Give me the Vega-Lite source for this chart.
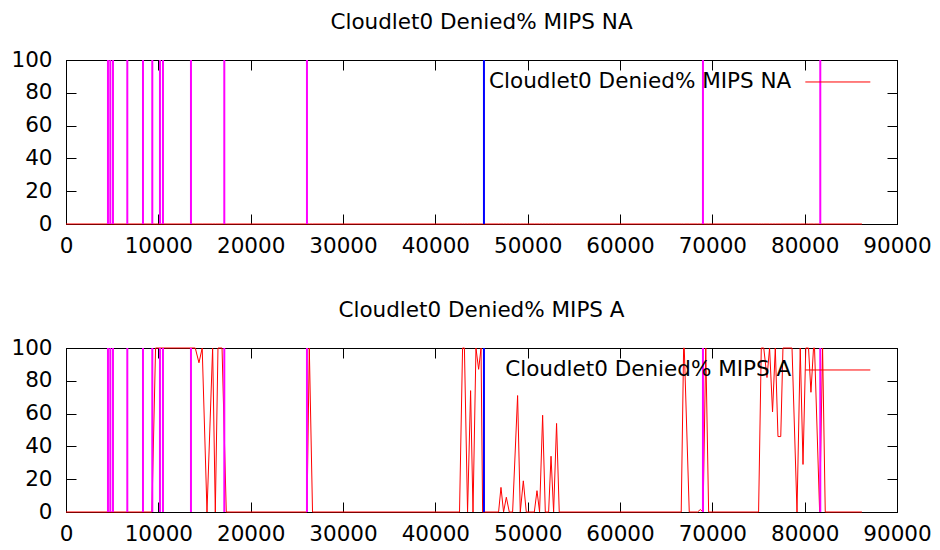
{
  "$schema": "https://vega.github.io/schema/vega-lite/v6.json",
  "padding": {"left": 10, "top": 11, "right": 5, "bottom": 0},
  "datasets": {
    "denied": [
      {"t": 0, "na": 0, "a": 0},
      {"t": 9300, "na": 0, "a": 0},
      {"t": 9700, "na": 0, "a": 100},
      {"t": 14000, "na": 0, "a": 100},
      {"t": 14400, "na": 0, "a": 91},
      {"t": 14750, "na": 0, "a": 100},
      {"t": 15270, "na": 0, "a": 0},
      {"t": 15880, "na": 0, "a": 100},
      {"t": 16170, "na": 0, "a": 0},
      {"t": 16460, "na": 0, "a": 100},
      {"t": 16900, "na": 0, "a": 100},
      {"t": 17360, "na": 0, "a": 0},
      {"t": 26100, "na": 0, "a": 0},
      {"t": 26350, "na": 0, "a": 100},
      {"t": 26700, "na": 0, "a": 0},
      {"t": 42620, "na": 0, "a": 0},
      {"t": 42950, "na": 0, "a": 100},
      {"t": 43150, "na": 0, "a": 100},
      {"t": 43490, "na": 0, "a": 0},
      {"t": 43820, "na": 0, "a": 74},
      {"t": 44080, "na": 0, "a": 0},
      {"t": 44400, "na": 0, "a": 100},
      {"t": 44690, "na": 0, "a": 87},
      {"t": 44950, "na": 0, "a": 100},
      {"t": 45120, "na": 0, "a": 0},
      {"t": 46850, "na": 0, "a": 0},
      {"t": 47110, "na": 0, "a": 15},
      {"t": 47390, "na": 0, "a": 0},
      {"t": 47690, "na": 0, "a": 9},
      {"t": 48010, "na": 0, "a": 0},
      {"t": 48370, "na": 0, "a": 0},
      {"t": 48910, "na": 0, "a": 71},
      {"t": 49200, "na": 0, "a": 0},
      {"t": 49530, "na": 0, "a": 19},
      {"t": 49850, "na": 0, "a": 0},
      {"t": 50720, "na": 0, "a": 0},
      {"t": 51010, "na": 0, "a": 13},
      {"t": 51290, "na": 0, "a": 0},
      {"t": 51620, "na": 0, "a": 59},
      {"t": 51910, "na": 0, "a": 0},
      {"t": 52270, "na": 0, "a": 0},
      {"t": 52530, "na": 0, "a": 34},
      {"t": 52810, "na": 0, "a": 0},
      {"t": 53130, "na": 0, "a": 54},
      {"t": 53420, "na": 0, "a": 0},
      {"t": 66630, "na": 0, "a": 0},
      {"t": 66890, "na": 0, "a": 100},
      {"t": 66960, "na": 0, "a": 100},
      {"t": 67500, "na": 0, "a": 0},
      {"t": 68400, "na": 0, "a": 0},
      {"t": 68700, "na": 0, "a": 1.5},
      {"t": 69000, "na": 0, "a": 0},
      {"t": 69290, "na": 0, "a": 100},
      {"t": 69600, "na": 0, "a": 0},
      {"t": 75010, "na": 0, "a": 0},
      {"t": 75300, "na": 0, "a": 100},
      {"t": 75570, "na": 0, "a": 100},
      {"t": 75920, "na": 0, "a": 82},
      {"t": 76200, "na": 0, "a": 100},
      {"t": 76520, "na": 0, "a": 61},
      {"t": 76820, "na": 0, "a": 100},
      {"t": 77110, "na": 0, "a": 46},
      {"t": 77410, "na": 0, "a": 46},
      {"t": 77650, "na": 0, "a": 100},
      {"t": 78630, "na": 0, "a": 100},
      {"t": 79170, "na": 0, "a": 0},
      {"t": 79520, "na": 0, "a": 100},
      {"t": 79820, "na": 0, "a": 29},
      {"t": 80120, "na": 0, "a": 100},
      {"t": 80420, "na": 0, "a": 100},
      {"t": 80680, "na": 0, "a": 73},
      {"t": 80960, "na": 0, "a": 100},
      {"t": 81070, "na": 0, "a": 100},
      {"t": 81620, "na": 0, "a": 0},
      {"t": 81940, "na": 0, "a": 100},
      {"t": 82230, "na": 0, "a": 0},
      {"t": 86200, "na": 0, "a": 0}
    ],
    "events": [
      {"t": 4545, "kind": "m"},
      {"t": 4798, "kind": "m"},
      {"t": 5087, "kind": "m"},
      {"t": 6639, "kind": "m"},
      {"t": 8336, "kind": "m"},
      {"t": 9346, "kind": "m"},
      {"t": 10177, "kind": "m"},
      {"t": 10502, "kind": "m"},
      {"t": 13534, "kind": "m"},
      {"t": 17144, "kind": "m"},
      {"t": 26097, "kind": "m"},
      {"t": 45266, "kind": "b"},
      {"t": 68984, "kind": "m"},
      {"t": 81691, "kind": "m"}
    ],
    "key": [{"label": "entry"}]
  },
  "config": {
    "font": "DejaVu Sans",
    "view": {"stroke": "black", "strokeWidth": 1},
    "axis": {
      "labelFont": "DejaVu Sans",
      "labelFontSize": 21.5,
      "labelColor": "black",
      "domainColor": "black",
      "tickColor": "black",
      "tickSize": -10,
      "tickWidth": 1,
      "grid": false,
      "labelOverlap": false,
      "labelBound": false,
      "labelFlush": false,
      "zindex": 1
    },
    "axisX": {"labelPadding": 21},
    "axisY": {"labelPadding": 24},
    "title": {"font": "DejaVu Sans", "fontSize": 21.5, "fontWeight": "normal", "color": "black", "offset": 16},
    "concat": {"spacing": 42}
  },
  "vconcat": [
    {
      "width": 831,
      "height": 164,
      "title": "Cloudlet0 Denied% MIPS NA",
      "layer": [
        {
          "data": {"name": "denied"},
          "mark": {"type": "line", "color": "#ff0000", "strokeWidth": 1},
          "encoding": {
            "x": {"field": "t", "type": "quantitative", "scale": {"domain": [0, 90000], "nice": false},
                  "axis": {"orient": "bottom", "title": null, "values": [0, 10000, 20000, 30000, 40000, 50000, 60000, 70000, 80000, 90000], "format": "d"}},
            "y": {"field": "na", "type": "quantitative", "scale": {"domain": [0, 100], "nice": false},
                  "axis": {"orient": "left", "title": null, "values": [0, 20, 40, 60, 80, 100]}}
          }
        },
        {
          "data": {"name": "events"},
          "mark": {"type": "rule", "strokeWidth": 2},
          "encoding": {
            "x": {"field": "t", "type": "quantitative",
                  "axis": {"orient": "top", "title": null, "labels": false, "values": [0, 10000, 20000, 30000, 40000, 50000, 60000, 70000, 80000, 90000]}},
            "y": {"datum": 0, "axis": {"orient": "right", "title": null, "labels": false, "values": [0, 20, 40, 60, 80, 100]}},
            "y2": {"datum": 100},
            "color": {"field": "kind", "type": "nominal", "scale": {"domain": ["m", "b"], "range": ["#ff00ff", "#0000ff"]}, "legend": null}
          }
        },
        {
          "data": {"name": "key"},
          "mark": {"type": "text", "align": "right", "baseline": "middle", "fontSize": 21.5, "font": "DejaVu Sans", "color": "black"},
          "encoding": {
            "x": {"datum": 78550, "axis": null},
            "y": {"datum": 86.6, "axis": null},
            "text": {"value": "Cloudlet0 Denied% MIPS NA"}
          }
        },
        {
          "data": {"name": "key"},
          "mark": {"type": "rule", "color": "#ff0000", "strokeWidth": 1},
          "encoding": {
            "x": {"datum": 80070, "axis": null},
            "x2": {"datum": 87110},
            "y": {"datum": 86.6, "axis": null}
          }
        }
      ],
      "resolve": {"axis": {"x": "independent", "y": "independent"}}
    },
    {
      "width": 831,
      "height": 164,
      "title": "Cloudlet0 Denied% MIPS A",
      "layer": [
        {
          "data": {"name": "denied"},
          "mark": {"type": "line", "color": "#ff0000", "strokeWidth": 1},
          "encoding": {
            "x": {"field": "t", "type": "quantitative", "scale": {"domain": [0, 90000], "nice": false},
                  "axis": {"orient": "bottom", "title": null, "values": [0, 10000, 20000, 30000, 40000, 50000, 60000, 70000, 80000, 90000], "format": "d"}},
            "y": {"field": "a", "type": "quantitative", "scale": {"domain": [0, 100], "nice": false},
                  "axis": {"orient": "left", "title": null, "values": [0, 20, 40, 60, 80, 100]}}
          }
        },
        {
          "data": {"name": "events"},
          "mark": {"type": "rule", "strokeWidth": 2},
          "encoding": {
            "x": {"field": "t", "type": "quantitative",
                  "axis": {"orient": "top", "title": null, "labels": false, "values": [0, 10000, 20000, 30000, 40000, 50000, 60000, 70000, 80000, 90000]}},
            "y": {"datum": 0, "axis": {"orient": "right", "title": null, "labels": false, "values": [0, 20, 40, 60, 80, 100]}},
            "y2": {"datum": 100},
            "color": {"field": "kind", "type": "nominal", "scale": {"domain": ["m", "b"], "range": ["#ff00ff", "#0000ff"]}, "legend": null}
          }
        },
        {
          "data": {"name": "key"},
          "mark": {"type": "text", "align": "right", "baseline": "middle", "fontSize": 21.5, "font": "DejaVu Sans", "color": "black"},
          "encoding": {
            "x": {"datum": 78550, "axis": null},
            "y": {"datum": 86.6, "axis": null},
            "text": {"value": "Cloudlet0 Denied% MIPS A"}
          }
        },
        {
          "data": {"name": "key"},
          "mark": {"type": "rule", "color": "#ff0000", "strokeWidth": 1},
          "encoding": {
            "x": {"datum": 80070, "axis": null},
            "x2": {"datum": 87110},
            "y": {"datum": 86.6, "axis": null}
          }
        }
      ],
      "resolve": {"axis": {"x": "independent", "y": "independent"}}
    }
  ]
}
